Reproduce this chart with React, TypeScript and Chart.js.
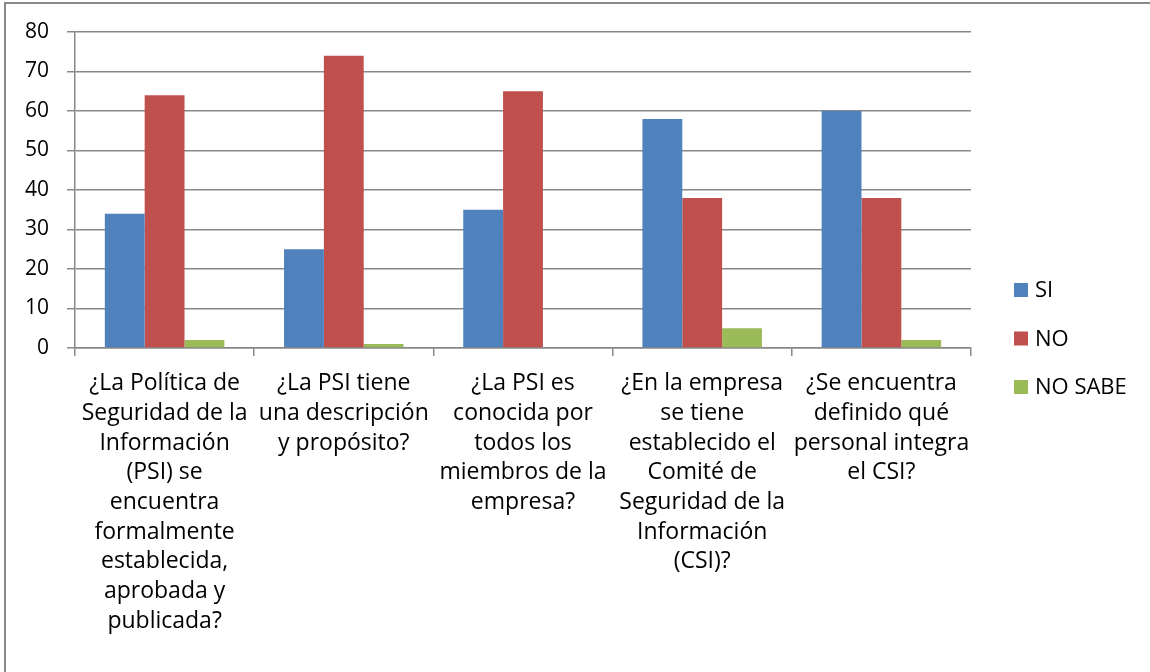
import React, { useEffect, useRef } from "react";
import { Chart, registerables } from "chart.js";

Chart.register(...registerables);

const categories: string[][] = [
  ["¿La Política de", "Seguridad de la", "Información", "(PSI) se", "encuentra", "formalmente", "establecida,", "aprobada y", "publicada?"],
  ["¿La PSI tiene", "una descripción", "y propósito?"],
  ["¿La PSI es", "conocida por", "todos los", "miembros de la", "empresa?"],
  ["¿En la empresa", "se tiene", "establecido el", "Comité de", "Seguridad de la", "Información", "(CSI)?"],
  ["¿Se encuentra", "definido qué", "personal integra", "el CSI?"],
];

const siValues = [34, 25, 35, 58, 60];
const noValues = [64, 74, 65, 38, 38];
const noSabeValues = [2, 1, 0, 5, 2];

const seriesLabels = ["SI", "NO", "NO SABE"];
const seriesColors = ["#4F81BD", "#C0504D", "#9BBB59"];

const FONT = "'Open Sans', 'Noto Sans', sans-serif";

const legendPlugin = {
  id: "customLegend",
  afterDraw(chart: any) {
    const ctx = chart.ctx;
    ctx.save();
    ctx.font = `22px ${FONT}`;
    ctx.textBaseline = "middle";
    ctx.textAlign = "left";
    const centers = [290, 338.5, 387];
    chart.data.datasets.forEach((ds: any, i: number) => {
      const cy = centers[i];
      ctx.fillStyle = ds.backgroundColor;
      ctx.fillRect(1014, cy - 7, 14, 14);
      ctx.fillStyle = "#000";
      ctx.fillText(ds.label, 1035, cy + 1);
    });
    ctx.restore();
  },
};

export default function App() {
  const ref = useRef<HTMLCanvasElement | null>(null);

  useEffect(() => {
    if (!ref.current) return;
    const chart = new Chart(ref.current, {
      type: "bar",
      data: {
        labels: categories,
        datasets: [siValues, noValues, noSabeValues].map((d, i) => ({
          label: seriesLabels[i],
          data: d,
          backgroundColor: seriesColors[i],
          borderWidth: 0,
          categoryPercentage: 0.667,
          barPercentage: 1.0,
        })),
      },
      options: {
        responsive: false,
        animation: false,
        devicePixelRatio: 1,
        layout: { padding: { top: 32, right: 179, left: 0, bottom: 0 } },
        plugins: {
          legend: { display: false },
          tooltip: { enabled: false },
        },
        scales: {
          x: {
            grid: {
              offset: true,
              drawOnChartArea: false,
              drawTicks: true,
              tickLength: 8,
              color: "#888888",
              lineWidth: 1.5,
            },
            border: { color: "#888888", width: 1.5 },
            ticks: {
              autoSkip: false,
              maxRotation: 0,
              minRotation: 0,
              padding: 13,
              color: "#000",
              font: { family: FONT, size: 23, lineHeight: 1.29 },
            },
            afterFit: (axis: any) => {
              axis.height = 672 - 348;
            },
          },
          y: {
            min: 0,
            max: 80,
            ticks: {
              stepSize: 10,
              padding: 18,
              color: "#000",
              font: { family: FONT, size: 21 },
            },
            grid: {
              color: "#888888",
              lineWidth: 1.5,
              tickLength: 8,
            },
            border: { color: "#888888", width: 1.5 },
            afterFit: (axis: any) => {
              axis.width = 75;
            },
          },
        },
      },
      plugins: [legendPlugin],
    });
    return () => chart.destroy();
  }, []);

  return (
    <div
      style={{
        position: "fixed",
        left: 0,
        top: 0,
        width: 1150,
        height: 672,
        background: "#fff",
        overflow: "hidden",
      }}
    >
      <div
        style={{
          position: "absolute",
          left: 4,
          top: 2,
          width: 1200,
          height: 700,
          borderTop: "2px solid #8a8a8a",
          borderLeft: "2px solid #8a8a8a",
        }}
      />
      <canvas
        ref={ref}
        width={1150}
        height={672}
        style={{ position: "absolute", left: 0, top: 0, width: 1150, height: 672 }}
      />
    </div>
  );
}
